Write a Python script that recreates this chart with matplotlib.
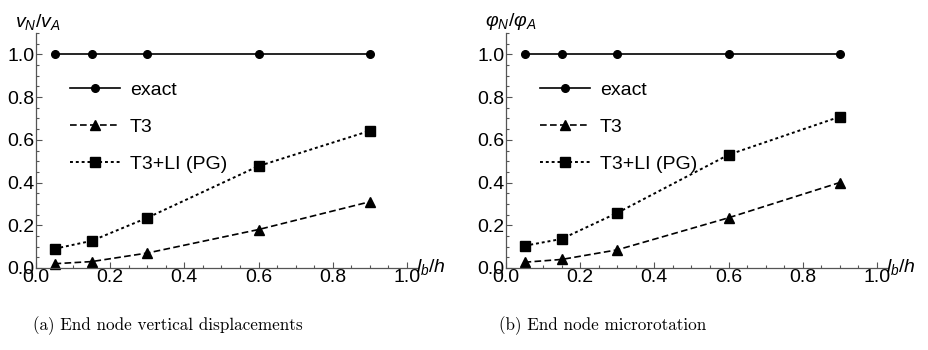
import matplotlib.pyplot as plt
from matplotlib.ticker import MultipleLocator, FormatStrFormatter

x = [0.05, 0.15, 0.3, 0.6, 0.9]
exact = [1.0, 1.0, 1.0, 1.0, 1.0]
t3_a = [0.02, 0.03, 0.07, 0.18, 0.31]
pg_a = [0.09, 0.127, 0.235, 0.477, 0.642]
t3_b = [0.027, 0.04, 0.085, 0.235, 0.40]
pg_b = [0.104, 0.136, 0.258, 0.53, 0.708]

ylabels = [r"$v_N/v_A$", r"$\varphi_N/\varphi_A$"]
captions = ["(a) End node vertical displacements", "(b) End node microrotation"]
legend_labels = ["exact", "T3", "T3+LI (PG)"]

plt.rcParams['font.family'] = ['Liberation Sans', 'DejaVu Sans']
plt.rcParams['mathtext.fontset'] = 'custom'
plt.rcParams['mathtext.it'] = 'Liberation Sans:italic'
plt.rcParams['mathtext.rm'] = 'Liberation Sans'

fig = plt.figure(figsize=(9.29, 3.5), dpi=100)
W, H = 929, 350
panels = [(36, 418), (506, 888)]
data = [(t3_a, pg_a), (t3_b, pg_b)]
cap_x = [168, 603]

for i, ((l, r), (t3, pg)) in enumerate(zip(panels, data)):
    top, bot = 33, 268
    ax = fig.add_axes([l / W, 1 - bot / H, (r - l) / W, (bot - top) / H])
    ax.set_xlim(0, 1.03)
    ax.set_ylim(0, 1.1)
    for s in ['top', 'right']:
        ax.spines[s].set_visible(False)
    for s in ['left', 'bottom']:
        ax.spines[s].set_color('#555555')
        ax.spines[s].set_linewidth(0.9)
    ax.xaxis.set_major_locator(MultipleLocator(0.2))
    ax.xaxis.set_minor_locator(MultipleLocator(0.05))
    ax.yaxis.set_major_locator(MultipleLocator(0.2))
    ax.yaxis.set_minor_locator(MultipleLocator(0.05))
    ax.xaxis.set_major_formatter(FormatStrFormatter('%.1f'))
    ax.yaxis.set_major_formatter(FormatStrFormatter('%.1f'))
    ax.tick_params(which='both', direction='in', colors='#555555', labelcolor='black', labelsize=14, width=0.8)
    ax.tick_params(which='major', length=4, pad=1)
    ax.tick_params(which='minor', length=2)

    ax.plot(x, exact, '-', color='black', marker='o', markersize=5.5, lw=1.2, label=legend_labels[0], clip_on=False)
    ax.plot(x, t3, '--', color='black', marker='^', markersize=7.5, lw=1.2, dashes=(4, 2), label=legend_labels[1], clip_on=False)
    ax.plot(x, pg, ':', color='black', marker='s', markersize=7.5, lw=1.4, dashes=(1.5, 1.5), label=legend_labels[2], clip_on=False)

    ax.legend(loc='upper left', bbox_to_anchor=(0.089, 0.794), frameon=False, fontsize=14,
              handlelength=2.57, labelspacing=1.0, handletextpad=0.5, borderpad=0, borderaxespad=0)

    ax.text(-0.055, 1.005, ylabels[i], transform=ax.transAxes, fontsize=14, ha='left', va='bottom')
    ax.text(0.995, -0.04, r"$l_b/h$", transform=ax.transAxes, fontsize=14, ha='left', va='bottom')

    fig.text(cap_x[i] / W, 1 - 326 / H, captions[i], fontsize=12.3, family='cmr10', ha='center', va='center')

fig.savefig('out.png', dpi=100)
